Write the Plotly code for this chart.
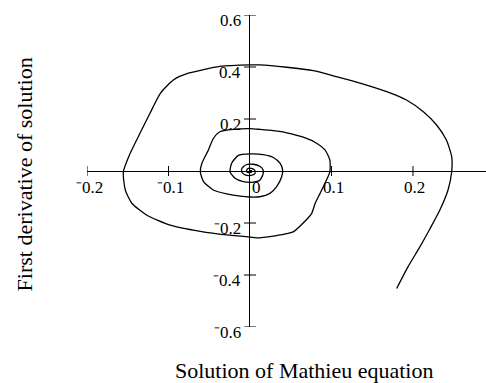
import plotly.graph_objects as go

# Phase-plane trajectory of the Mathieu equation: solution vs. its first derivative
x_sol = [0.180, 0.194, 0.2086, 0.221, 0.233, 0.243, 0.2475, 0.2475, 0.241, 0.229,
         0.2127, 0.192, 0.1677, 0.135, 0.106, 0.0777, 0.045, 0.0123, 0.0, -0.0368,
         -0.0757, -0.094, -0.110, -0.1227, -0.135, -0.147, -0.1554, -0.153, -0.145, -0.127,
         -0.098, -0.061, -0.0286, 0.0, 0.012, 0.037, 0.053, 0.065, 0.0757, 0.080,
         0.086, 0.092, 0.098, 0.098, 0.092, 0.0818, 0.0654, 0.045, 0.0286, 0.0123,
         0.0, -0.0204, -0.037, -0.045, -0.051, -0.059, -0.061, -0.057, -0.045, -0.0286,
         -0.012, 0.0, 0.012, 0.0245, 0.0327, 0.0389, 0.040, 0.0368, 0.0286, 0.0163,
         0.0, -0.0143, -0.0225, -0.0245, -0.0184, -0.0082, 0.004, 0.012, 0.016, 0.016,
         0.012, 0.004, -0.005, -0.010, -0.010, -0.006, 0.001, 0.006, 0.006, 0.003,
         -0.002, -0.004, -0.004, -0.001, 0.002, 0.002, 0.0]
dx_sol = [-0.452, -0.368, -0.291, -0.221, -0.150, -0.073, -0.003, 0.055, 0.119, 0.177,
          0.228, 0.273, 0.305, 0.338, 0.363, 0.386, 0.399, 0.408, 0.408, 0.402,
          0.376, 0.350, 0.299, 0.222, 0.145, 0.068, -0.003, -0.073, -0.124, -0.169,
          -0.208, -0.232, -0.246, -0.254, -0.257, -0.246, -0.234, -0.201, -0.163, -0.124,
          -0.086, -0.047, -0.003, 0.042, 0.081, 0.107, 0.130, 0.147, 0.155, 0.160,
          0.163, 0.160, 0.151, 0.125, 0.081, 0.030, -0.003, -0.041, -0.073, -0.088,
          -0.097, -0.100, -0.099, -0.086, -0.060, -0.022, 0.005, 0.030, 0.052, 0.063,
          0.066, 0.060, 0.030, -0.003, -0.028, -0.041, -0.043, -0.036, -0.012, 0.005,
          0.018, 0.026, 0.024, 0.010, -0.004, -0.015, -0.017, -0.010, 0.002, 0.009,
          0.010, 0.004, -0.003, -0.006, -0.004, 0.001, 0.002]

x_ticks = [-0.2, -0.1, 0.0, 0.1, 0.2]
x_tick_labels = ["\u207b0.2", "\u207b0.1", "0", "0.1", "0.2"]
y_ticks = [0.6, 0.4, 0.2, -0.2, -0.4, -0.6]
y_tick_labels = ["0.6", "0.4", "0.2", "\u207b0.2", "\u207b0.4", "\u207b0.6"]

x_title = "Solution of Mathieu equation"
y_title = "First derivative of solution"

FONT = "Liberation Serif, Times New Roman, serif"

fig = go.Figure()
fig.add_trace(go.Scatter(
    x=x_sol, y=dx_sol, mode="lines",
    line=dict(color="black", width=1.3, shape="spline", smoothing=0.6),
    hoverinfo="skip", showlegend=False,
))

shapes = []
annotations = []
# tick marks crossing the axes at the origin lines
for xv in x_ticks:
    if xv == 0:
        continue
    shapes.append(dict(type="line", xref="x", yref="y", ysizemode="pixel", yanchor=0,
                       x0=xv, x1=xv, y0=-5, y1=5, line=dict(color="black", width=1)))
for yv in y_ticks:
    shapes.append(dict(type="line", xref="x", yref="y", xsizemode="pixel", xanchor=0,
                       x0=-6, x1=6, y0=yv, y1=yv, line=dict(color="black", width=1)))

for xv, lab in zip(x_ticks, x_tick_labels):
    annotations.append(dict(x=xv, y=0, xref="x", yref="y", text=lab, showarrow=False,
                            xanchor="center", yanchor="middle",
                            xshift=7 if xv == 0 else 2, yshift=-16,
                            font=dict(family=FONT, size=17, color="black")))
for yv, lab in zip(y_ticks, y_tick_labels):
    annotations.append(dict(x=0, y=yv, xref="x", yref="y", text=lab, showarrow=False,
                            xanchor="right", yanchor="middle", xshift=-7, yshift=-5,
                            font=dict(family=FONT, size=17, color="black")))

annotations.append(dict(x=0.544, y=-0.138, xref="paper", yref="paper", text=x_title,
                        showarrow=False, xanchor="center", yanchor="middle",
                        font=dict(family=FONT, size=22, color="black")))
annotations.append(dict(x=-0.158, y=0.489, xref="paper", yref="paper", text=y_title,
                        showarrow=False, textangle=-90, xanchor="center", yanchor="middle",
                        font=dict(family=FONT, size=22, color="black")))

fig.update_layout(
    width=486, height=383,
    margin=dict(l=87, r=0, t=15, b=56),
    paper_bgcolor="white", plot_bgcolor="white",
    xaxis=dict(range=[-0.2, 0.2896], showgrid=False, showticklabels=False, ticks="",
               zeroline=True, zerolinecolor="black", zerolinewidth=1, showline=False),
    yaxis=dict(range=[-0.6, 0.6], showgrid=False, showticklabels=False, ticks="",
               zeroline=True, zerolinecolor="black", zerolinewidth=1, showline=False),
    shapes=shapes, annotations=annotations,
)

fig.write_html("out.html")
